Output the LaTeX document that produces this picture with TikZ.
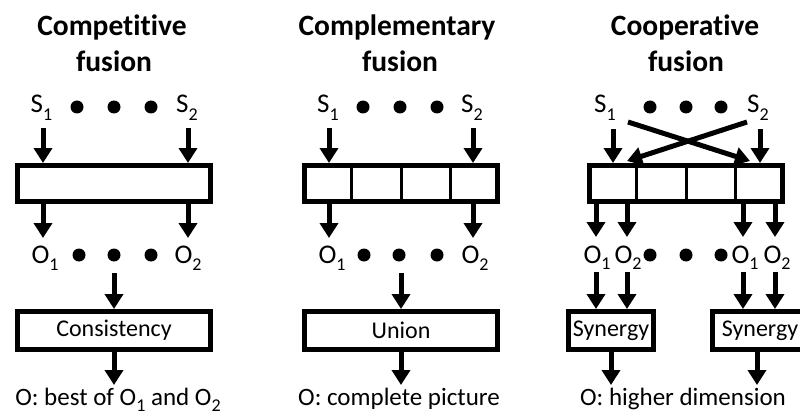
\documentclass[tikz,border=0pt]{standalone}
\usepackage{fontspec}
\setmainfont{Carlito}[Ligatures=NoCommon]
\usetikzlibrary{arrows.meta,calc}
\newcommand\subx[1]{\raisebox{-7.5pt}{\fontsize{18}{18}\selectfont #1}}
\newcommand\suby[1]{\raisebox{-6pt}{\fontsize{18}{18}\selectfont #1}}
\begin{document}
\begin{tikzpicture}[x=1pt,y=-1pt,
  txt/.style={inner sep=0pt, anchor=base, font=\fontsize{27}{27}\selectfont},
  lbl/.style={inner sep=0pt, anchor=base, font=\fontsize{25}{25}\selectfont},
  ttl/.style={inner sep=0pt, anchor=base, font=\fontsize{29.5}{30}\selectfont\bfseries},
  dot/.style={circle, fill=black, inner sep=0pt, minimum size=13pt},
  bigbox/.style={draw, line width=5pt, minimum width=193pt, minimum height=36pt, inner sep=0pt},
  outbox/.style={draw, line width=5pt, minimum height=38pt, inner sep=0pt, font=\fontsize{24}{24}\selectfont},
  arr/.style={line width=5pt, -{Triangle[width=18pt,length=15pt]}},
  cell/.style={line width=3pt}
]
\fill[white] (0,0) rectangle (800,417);
\useasboundingbox (0,0) rectangle (800,417);

% ---------- Panel 1: Competitive ----------
\node[ttl] (t1a) at (112,36) {Competitive};
\node[ttl] (t1b) at (114,72) {fusion};
\node[txt] (s1a) at (41.5,113) {S\subx{1}};
\node[txt] (s1b) at (187,113) {S\subx{2}};
\node[dot] (d1a) at (77,107) {};
\node[dot] (d1b) at (114,107) {};
\node[dot] (d1c) at (151,107) {};
\node[bigbox] (b1) at (114,183.5) {};
\coordinate (p1a) at (43,128);
\coordinate (p1b) at (188,128);
\draw[arr] (p1a) -- (p1a |- b1.north);
\draw[arr] (p1b) -- (p1b |- b1.north);
\coordinate (q1a) at (43,238);
\coordinate (q1b) at (188,238);
\draw[arr] (q1a |- b1.south) -- (q1a);
\draw[arr] (q1b |- b1.south) -- (q1b);
\node[txt] (o1a) at (45,263) {O\subx{1}};
\node[txt] (o1b) at (188,263) {O\subx{2}};
\node[dot] (e1a) at (79,255) {};
\node[dot] (e1b) at (114,255) {};
\node[dot] (e1c) at (151,255) {};
\node[outbox, minimum width=193pt] (c1) at (114,330.5) {Consistency};
\coordinate (m1) at (114,273);
\draw[arr] (m1) -- (m1 |- c1.north);
\coordinate (n1) at (114,385);
\draw[arr] (n1 |- c1.south) -- (n1);
\node[lbl] (l1) at (118,405) {O: best of O\suby{1} and O\suby{2}};

% ---------- Panel 2: Complementary ----------
\node[ttl] (t2a) at (397,36) {Complementary};
\node[ttl] (t2b) at (400,72) {fusion};
\node[txt] (s2a) at (328,113) {S\subx{1}};
\node[txt] (s2b) at (472,113) {S\subx{2}};
\node[dot] (d2a) at (363,107) {};
\node[dot] (d2b) at (400,107) {};
\node[dot] (d2c) at (437,107) {};
\node[bigbox] (b2) at (401,183.5) {};
\foreach \f in {0.25,0.5,0.75}
  \draw[cell] ($(b2.north west)!\f!(b2.north east)$) -- ($(b2.south west)!\f!(b2.south east)$);
\coordinate (p2a) at (329,128);
\coordinate (p2b) at (473,128);
\draw[arr] (p2a) -- (p2a |- b2.north);
\draw[arr] (p2b) -- (p2b |- b2.north);
\coordinate (q2a) at (329,238);
\coordinate (q2b) at (473,238);
\draw[arr] (q2a |- b2.south) -- (q2a);
\draw[arr] (q2b |- b2.south) -- (q2b);
\node[txt] (o2a) at (332,263) {O\subx{1}};
\node[txt] (o2b) at (475,263) {O\subx{2}};
\node[dot] (e2a) at (364,255) {};
\node[dot] (e2b) at (399,255) {};
\node[dot] (e2c) at (437,255) {};
\node[outbox, minimum width=193pt] (c2) at (401,330.5) {Union};
\coordinate (m2) at (401,273);
\draw[arr] (m2) -- (m2 |- c2.north);
\coordinate (n2) at (401,385);
\draw[arr] (n2 |- c2.south) -- (n2);
\node[lbl] (l2) at (399,405) {O: complete picture};

% ---------- Panel 3: Cooperative ----------
\node[ttl] (t3a) at (685,36) {Cooperative};
\node[ttl] (t3b) at (686,72) {fusion};
\node[txt] (s3a) at (605,113) {S\subx{1}};
\node[txt] (s3b) at (758,113) {S\subx{2}};
\node[dot] (d3a) at (650,107) {};
\node[dot] (d3b) at (686,107) {};
\node[dot] (d3c) at (721,107) {};
\node[bigbox] (b3) at (686,183.5) {};
\foreach \f in {0.25,0.5,0.75}
  \draw[cell] ($(b3.north west)!\f!(b3.north east)$) -- ($(b3.south west)!\f!(b3.south east)$);
\coordinate (p3a) at (613,129);
\coordinate (p3b) at (760,129);
\draw[arr] (p3a) -- (p3a |- b3.north);
\draw[arr] (p3b) -- (p3b |- b3.north);
\coordinate (x3a) at (628,122);
\coordinate (x3b) at (750,161);
\coordinate (x3c) at (747,122);
\coordinate (x3d) at (627,161);
\draw[arr] (x3a) -- (x3b);
\draw[arr] (x3c) -- (x3d);
\coordinate (q3a) at (596,237);
\coordinate (q3b) at (627,237);
\coordinate (q3c) at (743,237);
\coordinate (q3d) at (775,237);
\foreach \q in {q3a,q3b,q3c,q3d}
  \draw[arr] (\q |- b3.south) -- (\q);
\node[txt] (o3a) at (597,263) {O\suby{1}};
\node[txt] (o3b) at (628,263) {O\suby{2}};
\node[dot] (e3a) at (650,255) {};
\node[dot] (e3b) at (686,255) {};
\node[dot] (e3c) at (721,255) {};
\node[txt] (o3c) at (745,263) {O\suby{1}};
\node[txt] (o3d) at (777,263) {O\suby{2}};
\node[outbox, minimum width=85pt] (y1) at (611,330.5) {Synergy};
\node[outbox, minimum width=95pt] (y2) at (760,330.5) {Synergy};
\coordinate (r3a) at (596,272);
\coordinate (r3b) at (627,272);
\coordinate (r3c) at (743,272);
\coordinate (r3d) at (775,272);
\draw[arr] (r3a) -- (r3a |- y1.north);
\draw[arr] (r3b) -- (r3b |- y1.north);
\draw[arr] (r3c) -- (r3c |- y2.north);
\draw[arr] (r3d) -- (r3d |- y2.north);
\coordinate (n3a) at (611,385);
\coordinate (n3b) at (757,385);
\draw[arr] (n3a |- y1.south) -- (n3a);
\draw[arr] (n3b |- y2.south) -- (n3b);
\node[lbl] (l3) at (683,405) {O: higher dimension};
\end{tikzpicture}
\end{document}
